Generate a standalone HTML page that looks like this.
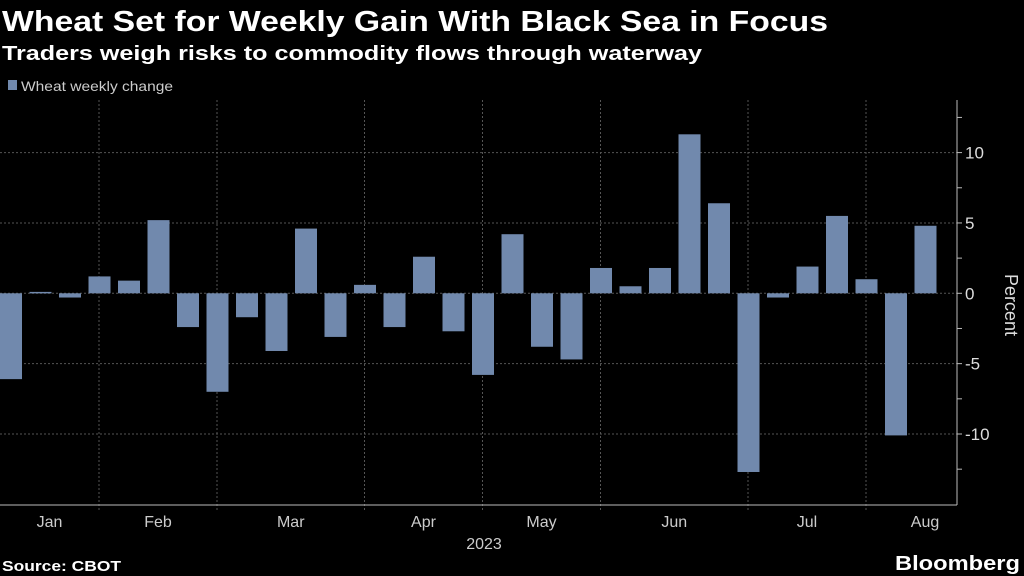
<!DOCTYPE html>
<html><head><meta charset="utf-8"><style>
body{margin:0;background:#000;width:1024px;height:576px;overflow:hidden;font-family:"Liberation Sans",sans-serif;}
svg{position:absolute;left:0;top:0}
</style></head><body>
<svg width="1024" height="576">
<text x="2" y="31" fill="#fff" font-size="29" font-weight="bold" textLength="826" lengthAdjust="spacingAndGlyphs">Wheat Set for Weekly Gain With Black Sea in Focus</text>
<text x="2" y="60" fill="#fff" font-size="20" font-weight="bold" textLength="700" lengthAdjust="spacingAndGlyphs">Traders weigh risks to commodity flows through waterway</text>
<rect x="8" y="80" width="9" height="10" fill="#7189ad"/>
<text x="21" y="91" fill="#ccc" font-size="14" textLength="152" lengthAdjust="spacingAndGlyphs">Wheat weekly change</text>
<g id="grid"></g><g id="bars"></g><g id="axes"></g>
<text transform="translate(1005,305) rotate(90)" text-anchor="middle" fill="#ddd" font-size="18">Percent</text>
<text x="484" y="549" text-anchor="middle" fill="#ccc" font-size="16">2023</text>
<text x="2" y="571" fill="#fff" font-size="15" font-weight="bold" textLength="119" lengthAdjust="spacingAndGlyphs">Source: CBOT</text>
<text x="895" y="570" fill="#fff" font-size="20" font-weight="bold" textLength="125" lengthAdjust="spacingAndGlyphs">Bloomberg</text>
</svg>
<script>
const values=[-6.1,0.1,-0.3,1.2,0.9,5.2,-2.4,-7.0,-1.7,-4.1,4.6,-3.1,0.6,-2.4,2.6,-2.7,-5.8,4.2,-3.8,-4.7,1.8,0.5,1.8,11.3,6.4,-12.7,-0.3,1.9,5.5,1.0,-10.1,4.8];
const yTicks=[10,5,0,-5,-10];
const months=["Jan","Feb","Mar","Apr","May","Jun","Jul","Aug"];
const monthStarts=[-0.4,3,7,12,16,20,25,29];
const NS="http://www.w3.org/2000/svg";
const x0=0,x1=957,yTop=100,yBot=505;
const y=v=>293.3-v*14.07;
const xc=i=>11+29.5*i;
const xb=m=>11+29.5*m-0.5;
function mk(t,a,p){const e=document.createElementNS(NS,t);for(const k in a)e.setAttribute(k,a[k]);document.getElementById(p).appendChild(e);return e;}
yTicks.forEach(t=>{
 const l=mk('line',{x1:x0,x2:x1,y1:y(t),y2:y(t),stroke:'#555','stroke-dasharray':'2,2'},'grid');
 
 
 const tx=mk('text',{x:x1+8,y:y(t)+6,fill:'#ddd','font-size':17},'axes');
 tx.textContent=(t<0?'-':'')+Math.abs(t);
 
 
});
mk('line',{x1:x0,x2:x1,y1:yBot,y2:yBot,stroke:'#555','stroke-dasharray':'2,2'},'grid');
const bounds=[3,7,12,16,20,25,29];
bounds.forEach(b=>{
 const X=xb(b);
 const l=mk('line',{x1:X,x2:X,y1:yTop,y2:yBot+7,stroke:'#555','stroke-dasharray':'2,2'},'grid');
 
 
});
months.forEach((m,i)=>{
 const a=i==0?0:xb(monthStarts[i]),b=i<7?xb(monthStarts[i+1]):984;
 const t=mk('text',{x:(a+b)/2,y:527,fill:'#ccc','font-size':16,'text-anchor':'middle'},'axes');
 t.textContent=m;
 
 
});
values.forEach((v,i)=>{
 let L=xc(i)-11,R=xc(i)+11;L=Math.max(L,x0);
 const r=mk('rect',{x:L,width:R-L,y:Math.min(y(v),y(0)),height:Math.max(1.5,Math.abs(y(v)-y(0))),fill:'#7189ad'},'bars');
 
 
});
mk('line',{x1:x1,x2:x1,y1:yTop,y2:yBot,stroke:'#bbb'},'axes');
mk('line',{x1:x0,x2:x1,y1:yBot,y2:yBot,stroke:'#bbb'},'axes');
[-12.5,-7.5,-2.5,2.5,7.5,12.5].concat(yTicks).forEach(t=>mk('line',{x1:x1,x2:x1+5,y1:y(t),y2:y(t),stroke:'#bbb'},'axes'));
</script>
</body></html>
